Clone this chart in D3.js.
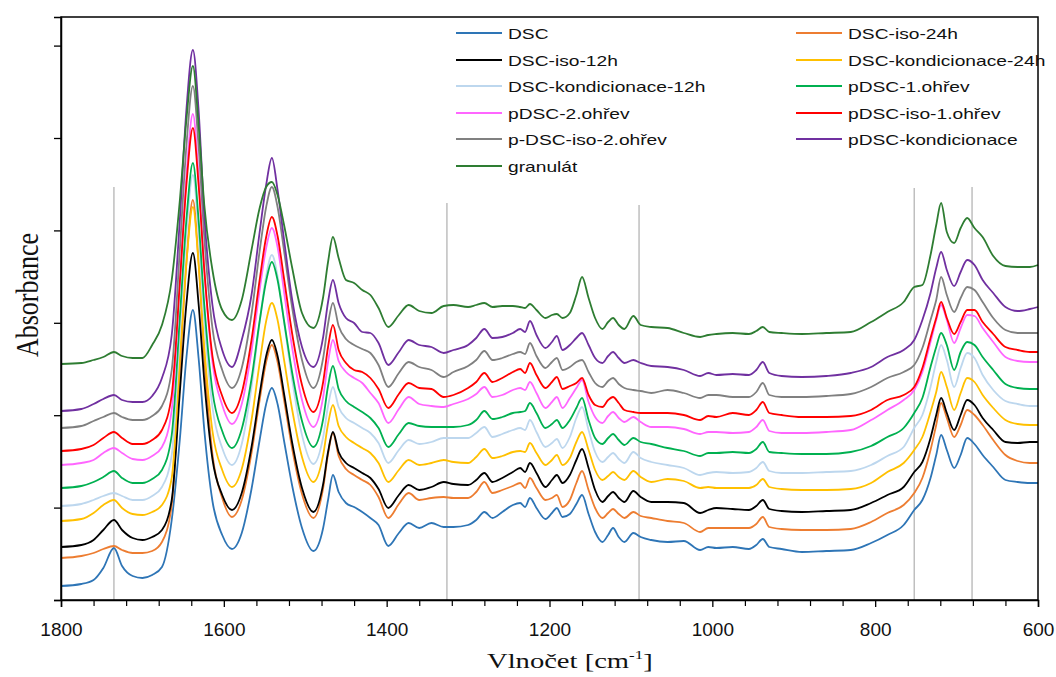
<!DOCTYPE html>
<html><head><meta charset="utf-8">
<script src="https://cdn.jsdelivr.net/npm/d3@7"></script>
<style>body{margin:0;background:#fff;overflow:hidden}</style>
</head><body>
<svg id="c" width="1056" height="677"></svg>
<script>
// wavenumbers (cm-1) shared by all spectra
const wavenumbers = [
1800,1775,1760,1748,1735,1725,1712,1700,1688,1676,
1664,1654,1646,1638,1631,1624,1614,1602,1590,1578,
1566,1556,1548,1541,1534,1526,1516,1504,1490,1478,
1472,1466,1459,1450,1440,1430,1420,1410,1398,1385,
1373,1360,1345,1330,1318,1300,1290,1280,1270,1258,
1245,1236,1230,1224,1216,1205,1197,1191,1184,1175,
1167,1160,1152,1144,1135,1128,1122,1115,1108,1097,
1088,1075,1055,1035,1015,1005,995,975,955,946,
938,930,915,890,860,830,805,785,765,752,
742,732,725,719,712,703,695,687,678,668,
655,640,625,610,600];

// absorbance (arbitrary units, spectra offset vertically)
const dsc = [
14,16,20,32,52,34,24,22,25,33,
80,161,242,290,242,170,99,65,51,67,
111,160,196,212,196,159,114,72,49,72,
100,125,108,97,93,88,82,75,54,67,
77,72,77,73,73,75,80,88,82,88,
95,97,93,102,92,81,87,92,83,86,
96,105,86,68,58,65,72,63,58,67,
63,60,58,59,50,53,52,53,51,55,
61,53,51,48,49,50,57,65,75,90,
100,122,145,165,150,132,145,162,156,145,
133,120,118,117,117];
const dscIso24 = [
42,44,47,51,54,50,47,47,49,58,
95,229,337,400,337,242,146,102,83,100,
147,200,238,255,238,200,151,106,82,112,
146,167,144,131,125,120,115,103,82,96,
107,100,102,103,102,102,108,118,107,110,
114,117,112,122,112,100,102,105,93,100,
117,129,110,92,82,87,91,86,82,88,
84,82,79,77,68,72,72,72,72,76,
83,73,71,70,70,71,78,87,95,107,
122,150,175,197,182,163,175,190,185,175,
160,145,139,137,137];
const dscIso12 = [
53,55,60,70,80,70,62,60,63,70,
100,208,296,347,296,219,141,105,90,107,
153,206,244,260,244,206,157,112,88,116,
148,168,148,137,132,127,122,111,92,105,
115,110,113,118,116,115,120,127,118,122,
128,132,128,137,127,113,120,125,117,125,
140,151,132,110,98,104,108,102,98,109,
103,98,98,97,87,90,92,91,90,94,
100,91,89,88,89,90,97,105,113,128,
138,162,185,202,187,170,185,200,195,182,
170,158,157,158,158];
const dscKond24 = [
79,81,87,95,100,92,86,85,88,95,
122,242,337,393,337,253,169,130,113,131,
180,237,279,297,280,240,190,143,118,145,
176,195,174,163,157,152,147,137,118,130,
140,135,137,140,138,137,143,151,142,144,
148,149,148,157,147,135,140,145,135,142,
158,168,150,130,120,124,128,123,120,129,
123,118,121,119,112,113,112,112,112,115,
121,113,111,110,110,111,117,128,137,150,
163,188,208,228,213,190,207,222,218,205,
192,180,176,175,175];
const dscKond12 = [
94,96,100,104,107,104,100,100,104,113,
145,268,367,425,367,280,193,152,135,156,
213,278,324,345,324,278,220,165,136,163,
194,213,193,182,177,172,167,157,137,150,
160,156,158,162,162,162,167,173,163,166,
170,172,170,180,168,153,157,161,152,163,
182,193,170,148,138,143,147,141,137,148,
142,138,135,132,125,127,128,127,128,132,
138,129,127,127,128,129,135,144,153,172,
185,213,238,255,240,213,232,247,242,225,
210,199,196,194,194];
const pdsc1 = [
112,114,118,123,129,122,117,117,121,130,
165,283,380,437,380,295,209,169,152,171,
221,279,319,338,320,279,227,179,153,181,
214,234,211,199,193,188,182,172,153,166,
177,174,173,173,173,175,180,189,181,183,
187,188,189,197,187,172,176,180,172,180,
192,202,180,162,156,162,166,160,155,162,
158,156,152,149,144,147,147,148,147,151,
158,148,147,146,146,148,154,163,172,187,
202,233,253,267,255,230,248,258,255,243,
230,216,212,211,211];
const pdsc2 = [
135,137,140,147,152,147,141,140,144,153,
190,319,424,486,424,331,238,195,176,196,
249,310,352,372,353,308,252,200,173,203,
238,260,239,228,222,217,207,197,177,191,
203,196,194,193,196,201,206,213,203,205,
210,212,210,218,207,192,198,203,192,202,
212,220,198,183,177,184,188,182,178,183,
178,173,173,171,166,168,168,167,168,173,
180,169,167,167,168,170,180,190,200,210,
228,258,280,295,280,257,272,285,284,272,
258,243,239,238,238];
const pdscIso1 = [
149,151,155,162,168,162,156,156,160,170,
205,318,415,472,415,330,244,204,187,207,
260,320,363,383,364,321,266,215,188,218,
253,275,250,237,230,228,222,211,192,206,
217,212,211,203,205,212,218,227,218,222,
228,231,227,237,225,212,218,223,211,214,
217,222,205,195,193,200,203,197,190,188,
187,187,187,185,180,184,183,187,185,190,
198,187,185,183,183,184,190,200,205,213,
232,262,282,298,282,266,278,290,290,278,
266,253,250,248,248];
const pdscIso2 = [
172,174,179,183,187,183,180,180,184,194,
230,351,454,514,454,363,272,230,212,232,
286,349,393,413,393,349,292,240,212,242,
276,297,274,261,255,251,247,235,213,227,
238,233,230,223,228,234,240,249,240,242,
246,248,246,257,244,232,238,242,230,233,
238,240,228,217,213,219,222,216,212,210,
209,207,210,207,202,205,205,203,203,208,
217,205,203,203,204,206,213,222,228,235,
252,280,300,323,305,288,302,313,310,298,
282,270,267,267,267];
const pdscKond = [
189,191,196,201,205,200,198,198,204,222,
265,381,490,550,490,385,295,250,233,260,
305,368,415,442,410,360,300,253,233,263,
298,320,297,282,277,268,267,257,235,248,
260,255,253,247,250,255,262,271,262,263,
267,271,268,279,265,252,258,264,250,255,
262,267,255,242,237,244,248,242,237,240,
237,234,233,230,224,227,225,226,225,230,
238,227,224,223,224,227,233,243,250,260,
280,307,332,348,330,314,328,340,335,320,
307,293,289,291,293];
const granulat = [
236,237,240,243,248,244,242,242,255,275,
320,400,480,534,475,395,330,290,280,300,
350,392,413,418,405,375,332,287,272,303,
338,363,342,320,317,310,305,292,273,285,
295,289,287,294,295,293,295,297,293,294,
294,293,292,296,290,282,285,286,282,287,
305,323,302,282,271,278,282,275,271,284,
275,273,272,267,263,265,266,267,266,269,
273,268,267,266,267,268,278,288,298,313,
315,345,375,397,368,357,372,382,372,363,
344,334,333,333,335];

const seriesNames = ["DSC","DSC-iso-24h","DSC-iso-12h","DSC-kondicionace-24h","DSC-kondicionace-12h",
  "pDSC-1.ohřev","pDSC-2.ohřev","pDSC-iso-1.ohřev","p-DSC-iso-2.ohřev","pDSC-kondicionace","granulát"];
const seriesValues = [dsc,dscIso24,dscIso12,dscKond24,dscKond12,pdsc1,pdsc2,pdscIso1,pdscIso2,pdscKond,granulat];
const seriesColors = ["#2E75B6","#ED7D31","#000000","#FFC000","#BDD7EE",
  "#00B050","#FF66FF","#FF0000","#808080","#7030A0","#2E7D32"];

// vertical marker lines
const markerWavenumbers = [1735,1326,1090,752,681];
const markerTops = [413,397,395,412,413];

const xTickValues = [1800,1600,1400,1200,1000,800,600];
const xTickLabels = ["1800","1600","1400","1200","1000","800","600"];
const xMinorTicks = [1760,1720,1680,1640,1560,1520,1480,1440,1360,1320,1280,1240,1160,1120,1080,1040,960,920,880,840,760,720,680,640];
const yTickValues = [0,92.4,184.8,277.2,369.6,462,554.4];

const svg = d3.select("#c");
const L = 61, R = 1038, T = 17, B = 600;
const x = d3.scaleLinear().domain([1800,600]).range([L,R]);
const y = d3.scaleLinear().domain([0,583]).range([B,T]);

// markers
svg.append("g").selectAll("line").data(markerWavenumbers).join("line")
  .attr("x1", d=>x(d)).attr("x2", d=>x(d))
  .attr("y1", y(0)).attr("y2", (d,i)=>y(markerTops[i]))
  .attr("stroke","#BFBFBF").attr("stroke-width",1.5);

// spectra
const line = d3.line()
  .x((d,i)=>x(wavenumbers[i]))
  .y(d=>y(d))
  .curve(d3.curveMonotoneX);
svg.append("g").selectAll("path").data(seriesValues).join("path")
  .attr("d", d=>line(d))
  .attr("fill","none")
  .attr("stroke",(d,i)=>seriesColors[i])
  .attr("stroke-width",1.8)
  .attr("stroke-linejoin","round");

// frame
svg.append("rect").attr("x",L).attr("y",T).attr("width",R-L).attr("height",B-T)
  .attr("fill","none").attr("stroke","#000").attr("stroke-width",1.5);

// x axis
const xAxis = d3.axisBottom(x).tickValues(xTickValues)
  .tickFormat((d,i)=>xTickLabels[i]).tickSize(7).tickPadding(16);
const gx = svg.append("g").attr("transform",`translate(0,${B})`).call(xAxis);
gx.select(".domain").attr("stroke","#000").attr("stroke-width",1.5);
gx.selectAll(".tick line").attr("stroke","#000").attr("stroke-width",1.3);
gx.selectAll("text").attr("font-family","'Liberation Sans', Arial, sans-serif")
  .attr("font-size",19).attr("fill","#111");
const gxm = svg.append("g").attr("transform",`translate(0,${B})`)
  .call(d3.axisBottom(x).tickValues(xMinorTicks).tickFormat("").tickSize(6));
gxm.select(".domain").remove();
gxm.selectAll(".tick line").attr("stroke","#000").attr("stroke-width",1.2);

// y axis (ticks only)
const gy = svg.append("g").attr("transform",`translate(${L},0)`)
  .call(d3.axisLeft(y).tickValues(yTickValues).tickFormat("").tickSize(7));
gy.select(".domain").attr("stroke","#000").attr("stroke-width",1.5);
gy.selectAll(".tick line").attr("stroke","#000").attr("stroke-width",1.3);

// axis titles
const xt = svg.append("text")
  .attr("transform","translate(487,668) scale(1.3,1)")
  .attr("font-family","'Liberation Serif','Times New Roman',serif")
  .attr("font-size",22).attr("fill","#111");
xt.append("tspan").text("Vlnočet [cm");
xt.append("tspan").attr("font-size",13).attr("dy",-9).text("-1");
xt.append("tspan").attr("dy",9).text("]");

svg.append("text")
  .attr("transform","translate(38,295) scale(1.25,1) rotate(-90)")
  .attr("text-anchor","middle")
  .attr("font-family","'Liberation Serif','Times New Roman',serif")
  .attr("font-size",26).attr("fill","#111")
  .text("Absorbance");

// legend
const rowY = [33,60,86,113,139,166];
const legend = svg.append("g");
seriesNames.forEach((name,i)=>{
  const col = i % 2, row = Math.floor(i/2);
  const lx = col === 0 ? 456 : 796;
  const yy = rowY[row];
  legend.append("line").attr("x1",lx).attr("x2",lx+46).attr("y1",yy).attr("y2",yy)
    .attr("stroke",seriesColors[i]).attr("stroke-width",2);
  legend.append("text")
    .attr("transform",`translate(${lx+52},${yy+5.5}) scale(1.28,1)`)
    .attr("font-family","'Liberation Sans', Arial, sans-serif")
    .attr("font-size",15).attr("fill","#111")
    .text(name);
});
</script>
</body></html>
